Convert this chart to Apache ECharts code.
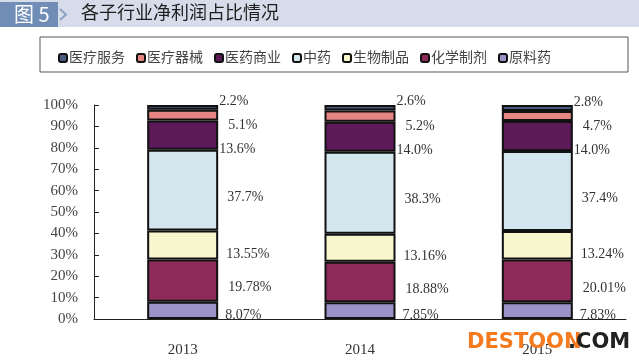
<!DOCTYPE html>
<html><head><meta charset="utf-8">
<script src="https://cdn.jsdelivr.net/npm/echarts@6/dist/echarts.min.js"></script>
<style>html,body{margin:0;padding:0;background:#fff}#c{width:639px;height:364px}</style>
</head><body><div id="c"></div>
<script>
const years = ['2013', '2014', '2015'];
const yTicks = ['0%','10%','20%','30%','40%','50%','60%','70%','80%','90%','100%'];
const seriesNames = ['医疗服务','医疗器械','医药商业','中药','生物制品','化学制剂','原料药'];
// values (%) per year
const yiliaoFuwu   = [2.2, 2.6, 2.8];
const yiliaoQixie  = [5.1, 5.2, 4.7];
const yiyaoShangye = [13.6, 14.0, 14.0];
const zhongyao     = [37.7, 38.3, 37.4];
const shengwu      = [13.55, 13.16, 13.24];
const huaxue       = [19.78, 18.88, 20.01];
const yuanliao     = [8.07, 7.85, 7.83];

const SERIF = '"Liberation Serif","DejaVu Serif","Noto Sans CJK SC",serif';

// stacking order bottom -> top
const defs = [
  {name:'原料药', data: yuanliao, color:'#9b93c8', dec:2, off:[6,5]},
  {name:'化学制剂', data: huaxue, color:'#8c2a5a', dec:2, off:[9,7]},
  {name:'生物制品', data: shengwu, color:'#f8f6cd', dec:2, off:[7,9]},
  {name:'中药', data: zhongyao, color:'#d3e6ee', dec:1, off:[8,7]},
  {name:'医药商业', data: yiyaoShangye, color:'#5c1a58', dec:1, off:[0,14]},
  {name:'医疗器械', data: yiliaoQixie, color:'#e78582', dec:1, off:[9,10]},
  {name:'医疗服务', data: yiliaoFuwu, color:'#4b5b82', dec:1, off:[0,-6]}
];

const chart = echarts.init(document.getElementById('c'));
chart.setOption({
  animation: false,
  graphic: [
    {type:'rect', shape:{x:0,y:0,width:639,height:27}, style:{fill:'#d7dcea'}, z:0},
    {type:'rect', shape:{x:0,y:2,width:58,height:25}, style:{fill:'#6f8db5'}, z:1},
    {type:'polyline', shape:{points:[[60,9],[66,14.5],[60,20]]}, style:{stroke:'#8aa2c4', lineWidth:2, fill:null}, z:1},
    {type:'text', x:14, y:4, style:{text:'图 5', fill:'#ffffff', font:'20px "Noto Sans CJK SC",sans-serif'}, z:2},
    {type:'text', x:81, y:3, style:{text:'各子行业净利润占比情况', fill:'#1e1e1e', font:'18px "Noto Sans CJK SC",sans-serif'}, z:2},
    {type:'rect', shape:{x:40,y:37,width:588,height:35}, style:{fill:null, stroke:'#555', lineWidth:1}, z:1},
    {type:'text', x:467, y:332, style:{text:'DESTOON', fill:'#f47a1f', font:'bold 21px "DejaVu Sans",sans-serif'}, z:10},
    {type:'text', x:568, y:332, style:{text:'.COM', fill:'#222', font:'bold 21px "DejaVu Sans",sans-serif'}, z:10}
  ],
  legend: {
    data: seriesNames,
    left: 53, top: 46,
    itemWidth: 8, itemHeight: 8, itemGap: 11,
    textStyle: {fontFamily: SERIF, fontSize: 14, color:'#444', padding:[0,0,0,-3]}
  },
  grid: {left: 94, right: 13, top: 105, bottom: 45},
  xAxis: {
    type: 'category', data: years,
    axisLine: {lineStyle:{color:'#222', width:1}},
    axisTick: {show:false},
    axisLabel: {fontFamily: SERIF, fontSize: 15, color:'#333', margin: 24}
  },
  yAxis: {
    type: 'value', min: 0, max: 100, interval: 10,
    axisLine: {show:true, lineStyle:{color:'#222', width:1}},
    axisTick: {show:true, inside:true, length:5, lineStyle:{color:'#222'}},
    splitLine: {show:false},
    axisLabel: {fontFamily: SERIF, fontSize: 15, color:'#444', margin: 16,
      formatter: (v) => yTicks[Math.round(v/10)]}
  },
  series: defs.map(d => ({
    name: d.name, type: 'bar', stack: 'total', barWidth: 71,
    data: d.data,
    itemStyle: {color: d.color, borderColor: '#111', borderWidth: 2},
    label: {show: true, position: 'right', distance: 1, offset: d.off,
      fontFamily: SERIF, fontSize: 14, color: '#333',
      formatter: (p) => p.value.toFixed(d.dec) + '%'}
  }))
});
</script></body></html>
